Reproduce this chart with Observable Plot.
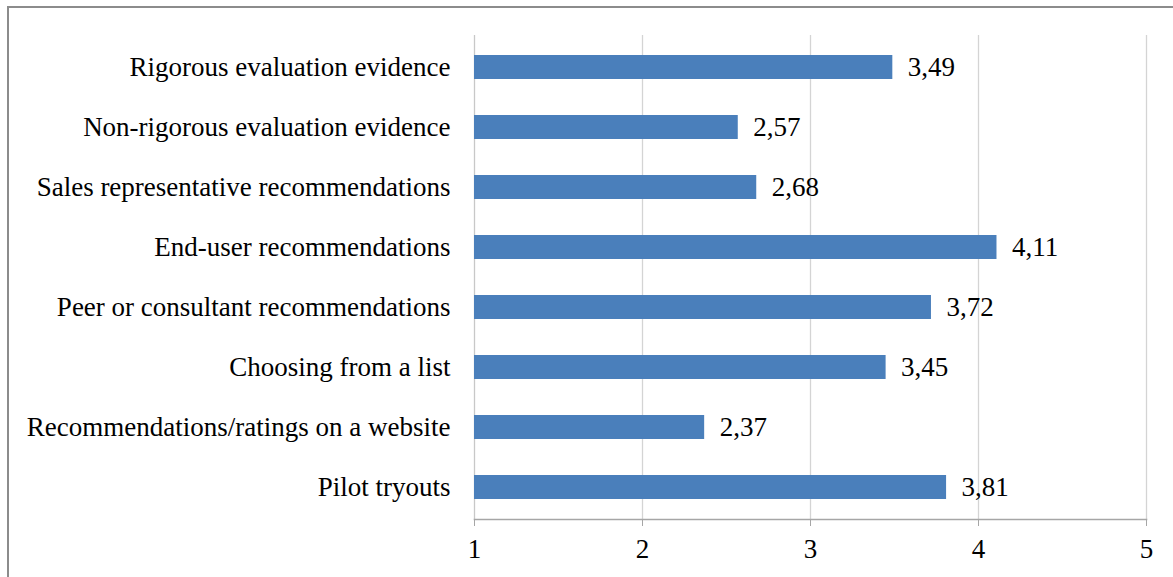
<!DOCTYPE html>
<html>
<head>
<meta charset="utf-8">
<script src="https://cdn.jsdelivr.net/npm/d3@7"></script>
<script src="https://cdn.jsdelivr.net/npm/@observablehq/plot@0.6"></script>
<style>
  html, body { margin: 0; padding: 0; background: #fff; }
  #wrap { position: relative; width: 1173px; height: 577px; overflow: hidden; }
  #border { position: absolute; left: 7px; top: 6px; width: 1200px; height: 600px;
            border-left: 2px solid #8c8c8c; border-top: 2px solid #8c8c8c; pointer-events: none; }
</style>
</head>
<body>
<div id="wrap"><div id="border"></div></div>
<script>
const categories = [
  "Rigorous evaluation evidence",
  "Non-rigorous evaluation evidence",
  "Sales representative recommendations",
  "End-user recommendations",
  "Peer or consultant recommendations",
  "Choosing from a list",
  "Recommendations/ratings on a website",
  "Pilot tryouts"
];
const values = [3.49, 2.57, 2.68, 4.11, 3.72, 3.45, 2.37, 3.81];
const xTicks = [1, 2, 3, 4, 5];
const gridTicks = [2, 3, 4, 5];
const baseline = 1;

const data = categories.map((name, i) => ({name, value: values[i]}));
const fmt = v => v.toFixed(2).replace(".", ",");

const chart = Plot.plot({
  width: 1173,
  height: 577,
  marginLeft: 474,
  marginRight: 27,
  marginTop: 35,
  marginBottom: 58,
  style: {fontFamily: "'Liberation Serif', 'Times New Roman', serif", fontSize: "27px", color: "black", background: "transparent"},
  x: {domain: [1, 5]},
  y: {domain: categories, paddingInner: 0.6, paddingOuter: 0.3},
  marks: [
    Plot.gridX(gridTicks, {stroke: "#d4d4d4", strokeOpacity: 1, strokeWidth: 1.3}),
    Plot.ruleX([baseline], {stroke: "#c8c8c8", strokeWidth: 1.3}),
    Plot.frame({anchor: "bottom", stroke: "#a6a6a6", strokeWidth: 1.6}),
    Plot.barX(data, {x1: baseline, x2: "value", y: "name", fill: "#4a7fbb"}),
    Plot.text(data, {x: "value", y: "name", text: d => fmt(d.value), textAnchor: "start", dx: 15, fill: "black"}),
    Plot.axisY({tickSize: 0, tickPadding: 24, label: null, fill: "black"}),
    Plot.axisX({ticks: xTicks, tickFormat: "d", tickSize: 7, tickPadding: 12, stroke: "#a6a6a6", fill: "black", label: null})
  ]
});
document.getElementById("wrap").prepend(chart);
</script>
</body>
</html>
